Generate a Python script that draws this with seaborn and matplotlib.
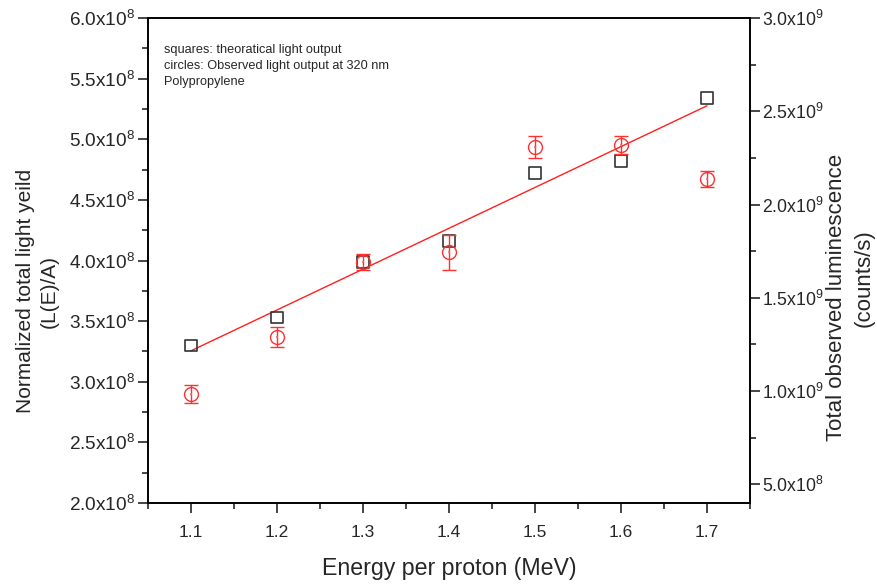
import numpy as np
import pandas as pd
import matplotlib
matplotlib.use("Agg")
import matplotlib.pyplot as plt
from matplotlib.ticker import FuncFormatter, MultipleLocator
import seaborn as sns

# ---- data ----
energy = [1.1, 1.2, 1.3, 1.4, 1.5, 1.6, 1.7]
theoretical = [3.30e8, 3.53e8, 3.99e8, 4.16e8, 4.72e8, 4.82e8, 5.34e8]
observed = [0.984e9, 1.29e9, 1.692e9, 1.745e9, 2.308e9, 2.319e9, 2.137e9]
observed_err = [0.05e9, 0.055e9, 0.043e9, 0.094e9, 0.06e9, 0.048e9, 0.043e9]
notes = ["squares: theoratical light output",
         "circles: Observed light output at 320 nm",
         "Polypropylene"]

sns.set_style("ticks")
plt.rcParams["font.family"] = ["Liberation Sans", "DejaVu Sans"]
plt.rcParams["mathtext.fontset"] = "custom"
plt.rcParams["mathtext.rm"] = "Liberation Sans"
plt.rcParams["mathtext.it"] = "Liberation Sans:italic"
plt.rcParams["mathtext.bf"] = "Liberation Sans:bold"

W, H = 877, 584
fig = plt.figure(figsize=(W / 100, H / 100), dpi=100)
ax = fig.add_axes([148 / W, 81 / H, 602 / W, 485 / H])
ax2 = ax.twinx()

df = pd.DataFrame({"energy": energy, "theoretical": theoretical,
                   "observed": observed, "err": observed_err})

# linear fit of theoretical values
coef = np.polyfit(df["energy"], df["theoretical"], 1)
fit_df = pd.DataFrame({"energy": [energy[0], energy[-1]]})
fit_df["fit"] = np.polyval(coef, fit_df["energy"])

sns.lineplot(data=fit_df, x="energy", y="fit", ax=ax, color="#ff2020", lw=1.0)
sns.scatterplot(data=df, x="energy", y="theoretical", ax=ax, marker="s", s=70,
                facecolor="none", edgecolor="#333333", linewidth=1.2, zorder=3)

ax2.errorbar(df["energy"], df["observed"], yerr=df["err"], fmt="o", ms=10,
             mfc="none", mec="#ff3030", mew=1.0, ecolor="#ff3030",
             elinewidth=1.0, capsize=5, capthick=1.0, zorder=3)
sns.scatterplot(data=df, x="energy", y="observed", ax=ax2, s=2,
                color="#ff6060", edgecolor="none", zorder=4)

def fmt(v, pos):
    if v == 0:
        return "0"
    e = int(np.floor(np.log10(abs(v)) + 1e-9))
    m = v / 10**e
    return f"{m:.1f}x10$^{{{e}}}$"

ax.set_xlim(1.05, 1.75)
ax.set_ylim(2e8, 6e8)
ax2.set_ylim(0.4e9, 3.0e9)

ax.xaxis.set_major_locator(MultipleLocator(0.1))
ax.xaxis.set_minor_locator(MultipleLocator(0.05))
ax.yaxis.set_major_locator(MultipleLocator(0.5e8))
ax.yaxis.set_minor_locator(MultipleLocator(0.25e8))
ax2.yaxis.set_major_locator(MultipleLocator(0.5e9))
ax2.yaxis.set_minor_locator(MultipleLocator(0.25e9))
ax.yaxis.set_major_formatter(FuncFormatter(fmt))
ax2.yaxis.set_major_formatter(FuncFormatter(fmt))
ax.xaxis.set_major_formatter(FuncFormatter(lambda v, p: f"{v:.1f}"))

for a in (ax, ax2):
    for s in a.spines.values():
        s.set_visible(True)
        s.set_linewidth(1.2)
        s.set_color("black")
    a.tick_params(which="major", length=7, width=1.2, direction="out", pad=2)
    a.tick_params(which="minor", length=4, width=1.2, direction="out")

ax.tick_params(axis="y", right=False, labelsize=13.7)
ax2.tick_params(axis="y", labelsize=12.7, pad=1.5)
ax.tick_params(axis="x", top=False, labelsize=12.5)
ax.tick_params(axis="x", which="major", pad=9)
ax2.set_ylabel("")

ax.set_xlabel("Energy per proton (MeV)", fontsize=16.7, labelpad=12)
ax.set_ylabel("Normalized total light yeild\n(L(E)/A)", fontsize=15,
              linespacing=1.35)
ax.yaxis.set_label_coords(-0.148, (503 - 291) / 485)

fig.text(836 / W, 1 - 297 / H, "Total observed luminescence", rotation=90,
         ha="center", va="center", fontsize=16)
fig.text(864 / W, 1 - 278 / H, "(counts/s)", rotation=90,
         ha="center", va="center", fontsize=16)

for i, t in enumerate(notes):
    ax.text(0.027, 0.934 - i * 0.033, t, transform=ax.transAxes, fontsize=9.2,
            va="center", ha="left")

fig.savefig("out.png", dpi=100)
